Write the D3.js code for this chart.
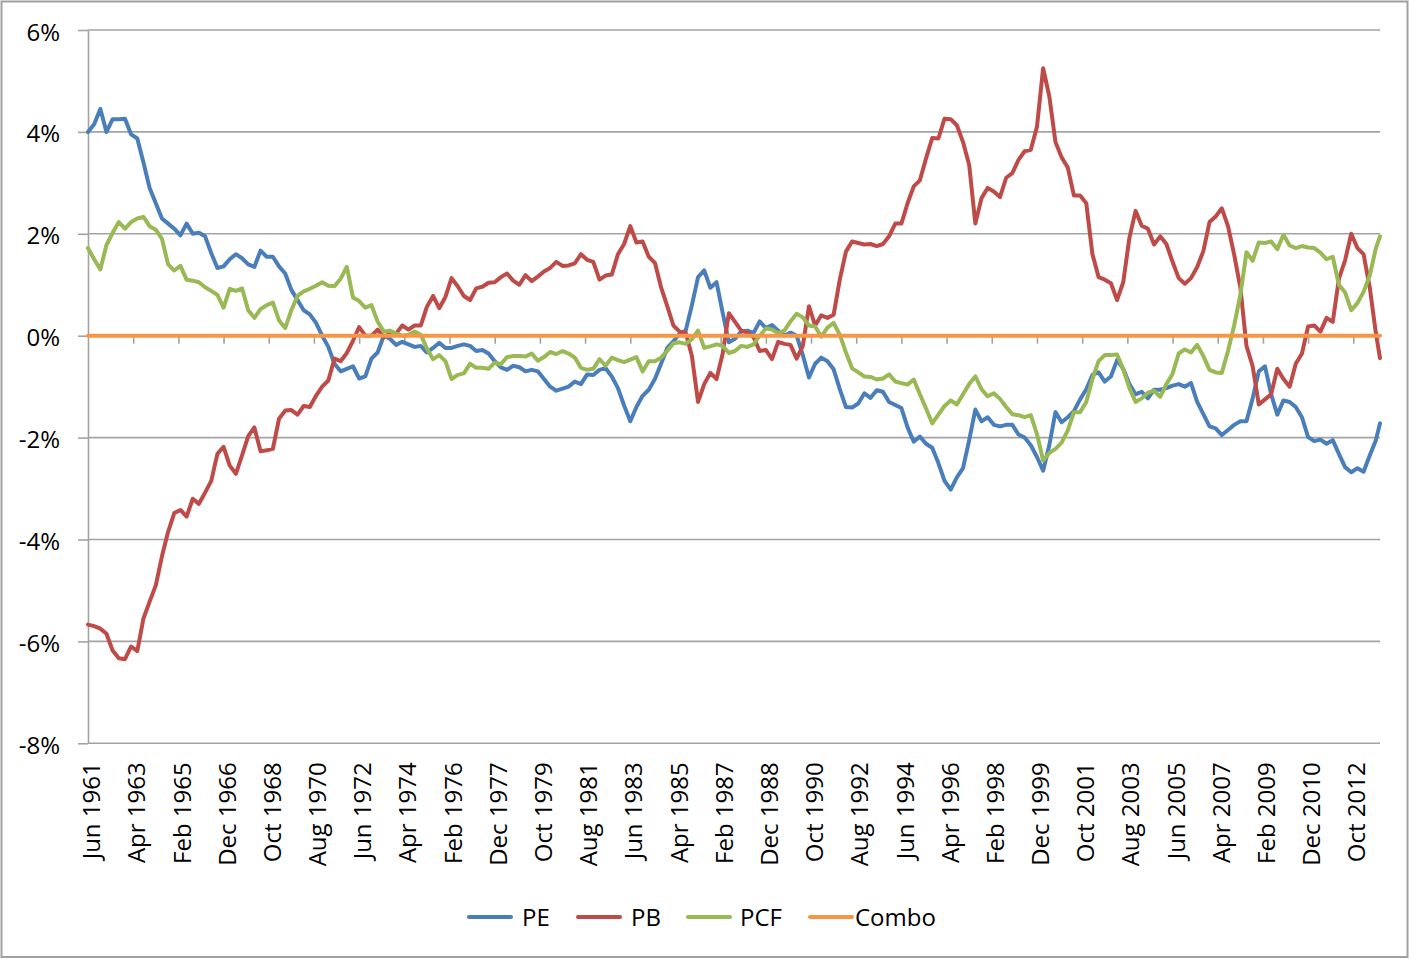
<!DOCTYPE html>
<html>
<head>
<meta charset="utf-8">
<script src="https://cdn.jsdelivr.net/npm/d3@7/dist/d3.min.js"></script>
<style>
html, body { margin: 0; padding: 0; background: #ffffff; }
svg { display: block; }
text { font-family: "Open Sans", "Noto Sans", sans-serif; fill: #000; }
</style>
</head>
<body>
<svg id="chart" width="1410" height="959"></svg>
<script>
// ---------------- DATA ----------------
const seriesNames = ["PE", "PB", "PCF", "Combo"];
const monthNames = ["Jan","Feb","Mar","Apr","May","Jun","Jul","Aug","Sep","Oct","Nov","Dec"];
const firstYear = 1961;
const firstMonth = 5;      // June
const monthCount = 630;    // Jun 1961 .. Nov 2013
const sampleStep = 3;      // values below are read every 3 months (last one = last month)
const labelEvery = 22;     // category label / tick interval
const yTickValues = [-8, -6, -4, -2, 0, 2, 4, 6];

const peValues = [
  4.0, 4.15, 4.45, 4.0, 4.25, 4.25, 4.26, 3.95, 3.87, 3.4,
  2.9, 2.6, 2.3, 2.2, 2.1, 1.97, 2.2, 2.0, 2.02, 1.95,
  1.62, 1.33, 1.36, 1.5, 1.6, 1.52, 1.4, 1.35, 1.67, 1.55,
  1.55, 1.36, 1.22, 0.9, 0.7, 0.5, 0.42, 0.25, 0.0, -0.22,
  -0.55, -0.7, -0.65, -0.6, -0.84, -0.8, -0.45, -0.33, 0.0, -0.06,
  -0.18, -0.12, -0.17, -0.22, -0.2, -0.33, -0.24, -0.14, -0.24, -0.24,
  -0.2, -0.17, -0.2, -0.3, -0.28, -0.35, -0.5, -0.62, -0.67, -0.59,
  -0.62, -0.7, -0.67, -0.7, -0.85, -1.0, -1.08, -1.04, -1.0, -0.9,
  -0.95, -0.76, -0.77, -0.67, -0.64, -0.8, -1.03, -1.37, -1.68, -1.4,
  -1.18, -1.06, -0.85, -0.55, -0.24, -0.11, 0.04, 0.1, 0.6, 1.15,
  1.28, 0.94, 1.05, 0.45, -0.13, -0.06, 0.08, 0.1, 0.05, 0.28,
  0.15, 0.21, 0.1, 0.0, 0.06, 0.0, -0.38, -0.82, -0.55, -0.43,
  -0.5, -0.66, -1.05, -1.4, -1.41, -1.33, -1.13, -1.22, -1.07, -1.1,
  -1.3, -1.36, -1.42, -1.8, -2.08, -1.98, -2.12, -2.2, -2.5, -2.85,
  -3.02, -2.78, -2.6, -2.05, -1.45, -1.68, -1.6, -1.75, -1.78, -1.75,
  -1.75, -1.94, -2.0, -2.15, -2.38, -2.65, -2.15, -1.5, -1.7, -1.6,
  -1.48, -1.25, -1.05, -0.77, -0.72, -0.9, -0.8, -0.48, -0.65, -0.95,
  -1.15, -1.1, -1.23, -1.06, -1.06, -1.03, -0.98, -0.95, -1.0, -0.93,
  -1.3, -1.54, -1.78, -1.82, -1.95, -1.85, -1.75, -1.68, -1.68, -1.23,
  -0.7, -0.6, -1.15, -1.55, -1.27, -1.3, -1.4, -1.6, -1.99, -2.07,
  -2.04, -2.12, -2.05, -2.32, -2.58, -2.68, -2.6, -2.67, -2.35, -2.05,
  -1.72
];

const pbValues = [
  -5.67, -5.7, -5.75, -5.85, -6.18, -6.33, -6.35, -6.1, -6.19, -5.55,
  -5.22, -4.9, -4.33, -3.85, -3.48, -3.42, -3.55, -3.2, -3.3, -3.08,
  -2.85, -2.32, -2.18, -2.55, -2.71, -2.35, -1.97, -1.8, -2.27, -2.25,
  -2.22, -1.63, -1.47, -1.46, -1.55, -1.38, -1.4, -1.18, -1.0, -0.88,
  -0.45, -0.5, -0.34, -0.1, 0.17, 0.0, 0.0, 0.12, -0.03, 0.05,
  0.04, 0.2, 0.12, 0.2, 0.2, 0.57, 0.78, 0.54, 0.76, 1.13,
  0.97, 0.78, 0.7, 0.93, 0.96, 1.04, 1.05, 1.15, 1.22, 1.08,
  1.0, 1.19, 1.07, 1.16, 1.26, 1.33, 1.45, 1.37, 1.38, 1.42,
  1.6, 1.49, 1.45, 1.1, 1.18, 1.2, 1.6, 1.8, 2.15, 1.83,
  1.85, 1.55, 1.43, 0.95, 0.58, 0.2, 0.08, 0.06, -0.4, -1.3,
  -0.95, -0.73, -0.85, -0.35, 0.44, 0.27, 0.1, 0.06, -0.03, -0.3,
  -0.28, -0.46, -0.12, -0.16, -0.18, -0.45, -0.2, 0.58, 0.2, 0.4,
  0.35, 0.41, 1.1, 1.65, 1.85, 1.82, 1.79, 1.8, 1.76, 1.8,
  1.95, 2.2, 2.2, 2.6, 2.93, 3.05, 3.48, 3.88, 3.87, 4.26,
  4.25, 4.13, 3.8, 3.35, 2.2, 2.7, 2.9, 2.83, 2.72, 3.1,
  3.19, 3.45, 3.62, 3.65, 4.1, 5.25, 4.7, 3.8, 3.5, 3.3,
  2.75, 2.75, 2.6, 1.6, 1.15, 1.1, 1.03, 0.7, 1.05, 1.92,
  2.45, 2.16, 2.1, 1.79, 1.95, 1.8, 1.45, 1.13, 1.02, 1.13,
  1.35, 1.66, 2.23, 2.34, 2.5, 2.15, 1.59, 0.95, -0.2, -0.6,
  -1.35, -1.25, -1.15, -0.65, -0.85, -1.0, -0.55, -0.35, 0.18, 0.2,
  0.08, 0.35, 0.27, 1.12, 1.48, 2.0, 1.72, 1.6, 0.95, 0.05,
  -0.44
];

const pcfValues = [
  1.72, 1.5, 1.3, 1.78, 2.02, 2.23, 2.1, 2.23, 2.3, 2.33,
  2.15, 2.08, 1.9, 1.4, 1.28, 1.37, 1.1, 1.08, 1.05, 0.95,
  0.88, 0.8, 0.55, 0.92, 0.88, 0.93, 0.5, 0.35, 0.52, 0.6,
  0.65, 0.3, 0.15, 0.5, 0.78, 0.87, 0.92, 0.98, 1.05, 0.98,
  0.97, 1.12, 1.35, 0.75, 0.68, 0.55, 0.6, 0.28, 0.08, 0.1,
  0.04, 0.0, 0.02, 0.08, 0.02, -0.25, -0.46, -0.38, -0.5, -0.85,
  -0.77, -0.74, -0.55, -0.63, -0.63, -0.65, -0.53, -0.56, -0.42, -0.4,
  -0.4, -0.41, -0.35, -0.49, -0.42, -0.32, -0.36, -0.3, -0.35, -0.43,
  -0.63, -0.67, -0.65, -0.46, -0.59, -0.43, -0.48, -0.52, -0.47, -0.42,
  -0.7, -0.5, -0.5, -0.43, -0.3, -0.15, -0.13, -0.16, -0.07, 0.1,
  -0.24, -0.21, -0.17, -0.2, -0.34, -0.3, -0.2, -0.22, -0.17, 0.0,
  0.14, 0.12, 0.05, 0.1, 0.28, 0.43, 0.36, 0.2, 0.18, -0.02,
  0.16, 0.25, 0.02, -0.33, -0.64, -0.72, -0.8, -0.81, -0.86, -0.84,
  -0.76, -0.9, -0.93, -0.96, -0.86, -1.15, -1.43, -1.72, -1.55, -1.38,
  -1.27, -1.35, -1.15, -0.95, -0.8, -1.05, -1.19, -1.13, -1.24, -1.4,
  -1.54, -1.56, -1.6, -1.56, -1.93, -2.45, -2.3, -2.22, -2.1, -1.86,
  -1.5, -1.5, -1.3, -0.85, -0.5, -0.38, -0.38, -0.37, -0.66, -1.03,
  -1.3, -1.23, -1.12, -1.08, -1.2, -0.95, -0.75, -0.35, -0.27, -0.33,
  -0.18, -0.4, -0.67, -0.72, -0.73, -0.3, 0.2, 0.8, 1.64, 1.47,
  1.83, 1.82, 1.85, 1.7, 1.98, 1.77, 1.72, 1.76, 1.73, 1.72,
  1.63, 1.5, 1.55, 1.0, 0.85, 0.5, 0.64, 0.86, 1.18, 1.72,
  1.95
];

const comboValues = [
  0,0,0,0,0,0,0,0,0,0, 0,0,0,0,0,0,0,0,0,0, 0,0,0,0,0,0,0,0,0,0,
  0,0,0,0,0,0,0,0,0,0, 0,0,0,0,0,0,0,0,0,0, 0,0,0,0,0,0,0,0,0,0,
  0,0,0,0,0,0,0,0,0,0, 0,0,0,0,0,0,0,0,0,0, 0,0,0,0,0,0,0,0,0,0,
  0,0,0,0,0,0,0,0,0,0, 0,0,0,0,0,0,0,0,0,0, 0,0,0,0,0,0,0,0,0,0,
  0,0,0,0,0,0,0,0,0,0, 0,0,0,0,0,0,0,0,0,0, 0,0,0,0,0,0,0,0,0,0,
  0,0,0,0,0,0,0,0,0,0, 0,0,0,0,0,0,0,0,0,0, 0,0,0,0,0,0,0,0,0,0,
  0,0,0,0,0,0,0,0,0,0, 0,0,0,0,0,0,0,0,0,0, 0,0,0,0,0,0,0,0,0,0,
  0
];

// ---------------- STYLE / LAYOUT ----------------
const colors = { PE: "#4A7EBB", PB: "#BE4B48", PCF: "#98B954", Combo: "#F79646" };
const W = 1410, H = 959;
const plot = { left: 88, right: 1380, top: 30, bottom: 743.3 };
const gridColor = "#a3a3a3";
const fontSize = 24;

// categories (month labels)
const categories = [];
for (let i = 0; i < monthCount; i++) {
  const m = (firstMonth + i) % 12;
  const yr = firstYear + Math.floor((firstMonth + i) / 12);
  categories.push(monthNames[m] + " " + yr);
}
const labelCats = categories.filter((c, i) => i % labelEvery === 0);

const svg = d3.select("#chart");

// outer chart border
svg.append("rect")
  .attr("x", 1.5).attr("y", 1.5)
  .attr("width", W - 4).attr("height", H - 3.5)
  .attr("fill", "#fff").attr("stroke", "#a0a0a0").attr("stroke-width", 2);

const x = d3.scalePoint().domain(categories).range([plot.left, plot.right]);
const y = d3.scaleLinear().domain([-8, 6]).range([plot.bottom, plot.top]);

// gridlines
svg.append("g").selectAll("line").data(yTickValues).join("line")
  .attr("x1", plot.left).attr("x2", plot.right)
  .attr("y1", d => y(d)).attr("y2", d => y(d))
  .attr("stroke", gridColor).attr("stroke-width", 1.6);

// y axis
const yAxis = svg.append("g")
  .attr("transform", `translate(${plot.left},0)`)
  .call(d3.axisLeft(y).tickValues(yTickValues).tickFormat(d => d + "%")
    .tickSize(10).tickSizeOuter(0).tickPadding(18));
yAxis.select(".domain").attr("stroke", gridColor).attr("stroke-width", 1.6);
yAxis.selectAll(".tick line").attr("stroke", gridColor).attr("stroke-width", 1.6);
yAxis.selectAll(".tick text")
  .attr("font-size", fontSize)
  .attr("font-family", '"Open Sans", sans-serif')
  .attr("dy", "0.42em")
  .attr("fill", "#000");

// category axis (crosses at 0) : tick marks only
const xAxis = svg.append("g")
  .attr("transform", `translate(0,${y(0)})`)
  .call(d3.axisBottom(x).tickValues(labelCats.slice(1)).tickFormat("")
    .tickSize(8).tickSizeOuter(0));
xAxis.select(".domain").attr("stroke", gridColor).attr("stroke-width", 1.6);
xAxis.selectAll(".tick line").attr("stroke", gridColor).attr("stroke-width", 1.6);

// category labels at the bottom (low position)
const xLabels = svg.append("g")
  .attr("transform", `translate(0,${plot.bottom})`)
  .call(d3.axisBottom(x).tickValues(labelCats).tickSize(0));
xLabels.select(".domain").remove();
xLabels.selectAll(".tick text")
  .attr("font-size", fontSize)
  .attr("font-family", '"Open Sans", sans-serif')
  .attr("fill", "#000")
  .attr("text-anchor", "end")
  .attr("transform", "rotate(-90)")
  .attr("x", -19)
  .attr("y", 3)
  .attr("dy", "0.36em");

// series
const seriesValues = { PE: peValues, PB: pbValues, PCF: pcfValues, Combo: comboValues };
const line = d3.line()
  .x(d => x(d.month))
  .y(d => y(d.value));

seriesNames.forEach(name => {
  const pts = seriesValues[name].map((v, k) => ({
    month: categories[Math.min(k * sampleStep, monthCount - 1)],
    value: v
  }));
  svg.append("path")
    .datum(pts)
    .attr("fill", "none")
    .attr("stroke", colors[name])
    .attr("stroke-width", 4)
    .attr("stroke-linejoin", "round")
    .attr("stroke-linecap", "round")
    .attr("d", line);
});

// legend
const legendLineX = [469, 578, 688, 810];
const legendTextX = [522, 631, 740, 855];
const legendY = 917;
const legend = svg.append("g");
seriesNames.forEach((name, i) => {
  legend.append("line")
    .attr("x1", legendLineX[i]).attr("x2", legendLineX[i] + 42)
    .attr("y1", legendY).attr("y2", legendY)
    .attr("stroke", colors[name]).attr("stroke-width", 4)
    .attr("stroke-linecap", "round");
  legend.append("text")
    .attr("x", legendTextX[i]).attr("y", legendY)
    .attr("dy", "0.36em")
    .attr("font-size", fontSize)
    .text(name);
});
</script>
</body>
</html>
